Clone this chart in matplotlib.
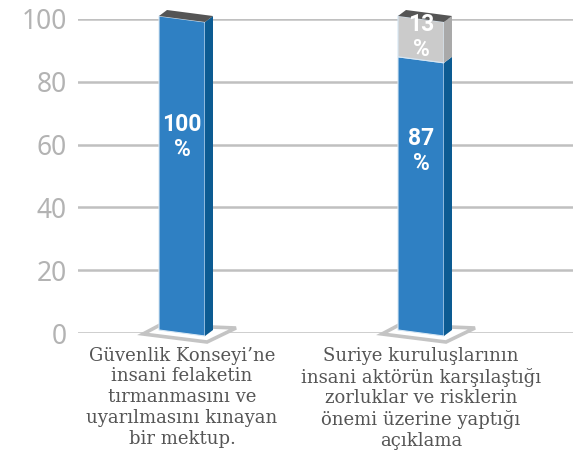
import matplotlib
matplotlib.use("Agg")
from matplotlib import pyplot as plt
from matplotlib.patches import Polygon
import numpy as np

# data
categories = ["Güvenlik Konseyi’ne\ninsani felaketin\ntırmanmasını ve\nuyarılmasını kınayan\nbir mektup.",
              "Suriye kuruluşlarının\ninsani aktörün karşılaştığı\nzorluklar ve risklerin\nönemi üzerine yaptığı\naçıklama"]
blue_vals = [100, 87]
gray_vals = [0, 13]
blue_labels = ["100\n%", "87\n%"]
gray_labels = ["", "13\n%"]
yticks = [0, 20, 40, 60, 80, 100]

W, H = 573, 465
fig = plt.figure(figsize=(W / 100, H / 100), dpi=100)
ax = fig.add_axes([78 / W, (H - 333) / H, (W - 78) / W, 314 / H])

# pixel -> data unit helpers
px_x = 1 / 239
px_y = 100 / 314
ax.set_xlim(-104 * px_x, -104 * px_x + 495 * px_x)
ax.set_ylim(0, 100)

hw = 23 * px_x          # half width of the front face
dx, dy = 8 * px_x, 6 * px_y  # depth of the box
sk = 3 * px_y           # slant of front edges

front_blue, side_blue = "#2f80c3", "#0c5b92"
front_gray, side_gray = "#cbcbcb", "#a9a9a9"
top_col = "#555555"


def segment(x, y0, y1, fc, sc):
    front = [(x - hw, y0 + sk), (x + hw, y0 - sk), (x + hw, y1 - sk), (x - hw, y1 + sk)]
    side = [(x + hw, y0 - sk), (x + hw + dx, y0 - sk + dy), (x + hw + dx, y1 - sk + dy), (x + hw, y1 - sk)]
    ax.add_patch(Polygon(front, closed=True, fc=fc, ec="#d6e6f3", lw=0.8, zorder=4, clip_on=False))
    ax.add_patch(Polygon(side, closed=True, fc=sc, ec="none", zorder=4, clip_on=False))


def top(x, y1):
    pts = [(x - hw, y1 + sk), (x + hw, y1 - sk), (x + hw + dx, y1 - sk + dy), (x - hw + dx, y1 + sk + dy)]
    ax.add_patch(Polygon(pts, closed=True, fc=top_col, ec="none", zorder=5, clip_on=False))


def floor(x):
    pts = [(x - 39 * px_x, -1 * px_y), (x - 22 * px_x, 8 * px_y),
           (x + 54 * px_x, 5 * px_y), (x + 25 * px_x, -9 * px_y)]
    ax.add_patch(Polygon(pts, closed=True, fc="white", ec="#c4c4c4", lw=2.6,
                         joinstyle="miter", zorder=3, clip_on=False))


lab_kw = dict(ha="center", va="center", color="white", fontsize=16.5,
              fontweight="bold", family="Roboto", linespacing=1.1, zorder=6)
for i in range(len(categories)):
    floor(i)
    b, g = blue_vals[i], gray_vals[i]
    segment(i, 0, b, front_blue, side_blue)
    if g > 0:
        segment(i, b, b + g, front_gray, side_gray)
    top(i, b + g)
    ax.text(i, 62.5 if i == 0 else 58.0, blue_labels[i], **lab_kw)
    if g > 0:
        ax.text(i, 94.3, gray_labels[i], **lab_kw)
    ax.text(i, -4.3, categories[i], ha="center", va="top", color="#555555",
            fontsize=13, family="DejaVu Serif", linespacing=1.2, clip_on=False)

ax.set_yticks(yticks)
ax.set_xticks([])
ax.tick_params(axis="y", length=0, pad=8, labelsize=19, labelcolor="#b3b3b3")
for lab in ax.get_yticklabels():
    lab.set_family("Noto Sans")
ax.grid(axis="y", color="#c0c0c0", lw=1.8, zorder=0)
ax.set_axisbelow(True)
for s in ax.spines.values():
    s.set_visible(False)

plt.savefig("out.png", dpi=100)
